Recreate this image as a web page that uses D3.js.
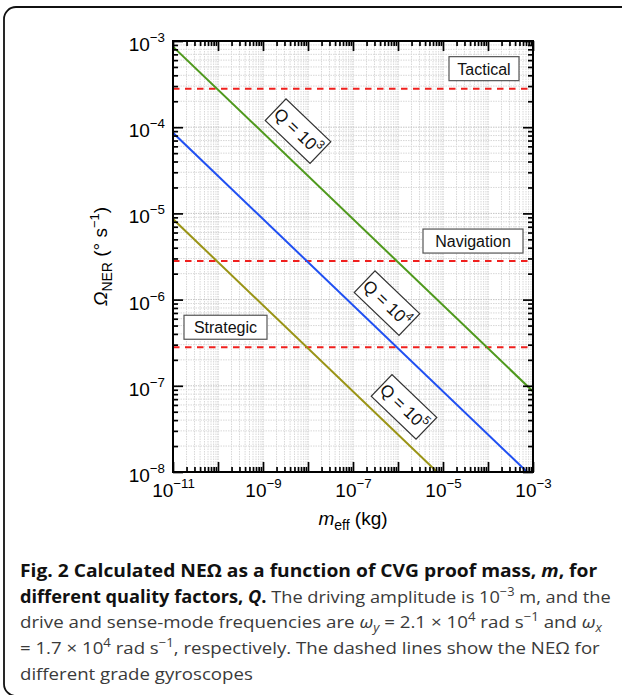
<!DOCTYPE html>
<html>
<head>
<meta charset="utf-8">
<script src="https://cdn.jsdelivr.net/npm/d3@7"></script>
<style>
  body { margin: 0; background: #fff; }
  svg text { font-family: "Liberation Sans", Arial, sans-serif; }
  svg text.caption { font-family: "Open Sans", "Noto Sans", sans-serif; }
</style>
</head>
<body>
<svg id="viz" width="622" height="695"></svg>
<script>
// axis ranges and labelled decades
var massDomain = [1e-11, 1e-3];
var rateDomain = [1e-8, 1e-3];
var massLabelExp = [-11, -9, -7, -5, -3];
var rateLabelExp = [-8, -7, -6, -5, -4, -3];

// NE-Omega curves, one per quality factor (end points)
var qExp = [3, 4, 5];
var qColors = ["#4f991d", "#2050f2", "#9a9416"];
var q3Mass = [1e-11, 1e-3];
var q3Rate = [8.6e-4, 8.6e-8];
var q4Mass = [1e-11, 7.4e-4];
var q4Rate = [8.6e-5, 1e-8];
var q5Mass = [1e-11, 7.4e-6];
var q5Rate = [8.6e-6, 1e-8];
// centre of each "Q = 10^n" tag
var qLabelMass = [6e-9, 5.7e-7, 1.36e-6];
var qLabelRate = [9e-5, 9.1e-7, 5.7e-8];

// gyroscope grades (dashed limits)
var gradeNames = ["Tactical", "Navigation", "Strategic"];
var gradeRates = [2.8e-4, 2.8e-6, 2.8e-7];

var plotL = 173, plotR = 533, plotT = 41, plotB = 472;

var svg = d3.select("#viz");

// outer rounded frame (right/bottom run off the page)
svg.append("rect")
  .attr("x", 4).attr("y", 7).attr("width", 650).attr("height", 689)
  .attr("rx", 12).attr("fill", "none").attr("stroke", "#111").attr("stroke-width", 1.8);

var x = d3.scaleLog().domain(massDomain).range([plotL, plotR]);
var y = d3.scaleLog().domain(rateDomain).range([plotB, plotT]);

function decades(dom) {
  var a = Math.round(Math.log10(dom[0])), b = Math.round(Math.log10(dom[1]));
  var major = [], minor = [];
  for (var e = a; e <= b; e++) {
    major.push(Math.pow(10, e));
    if (e < b) for (var k = 2; k <= 9; k++) minor.push(k * Math.pow(10, e));
  }
  return {major: major, minor: minor};
}
var xt = decades(massDomain), yt = decades(rateDomain);

// grid
var grid = svg.append("g").attr("fill", "none");
grid.selectAll(".gx").data(xt.minor.concat(xt.major)).join("line")
  .attr("x1", d => x(d)).attr("x2", d => x(d)).attr("y1", plotT).attr("y2", plotB)
  .attr("stroke", (d, i) => i >= xt.minor.length ? "#c4c4c4" : "#d8d8d8")
  .attr("stroke-width", 1).attr("stroke-dasharray", "1.5,1");
grid.selectAll(".gy").data(yt.minor.concat(yt.major)).join("line")
  .attr("y1", d => y(d)).attr("y2", d => y(d)).attr("x1", plotL).attr("x2", plotR)
  .attr("stroke", (d, i) => i >= yt.minor.length ? "#c4c4c4" : "#d8d8d8")
  .attr("stroke-width", 1).attr("stroke-dasharray", "1.5,1");

svg.append("clipPath").attr("id", "plotclip").append("rect")
  .attr("x", plotL).attr("y", plotT).attr("width", plotR - plotL).attr("height", plotB - plotT);
var plot = svg.append("g").attr("clip-path", "url(#plotclip)");

// grade limits
plot.selectAll(".grade").data(gradeRates).join("line")
  .attr("x1", plotL).attr("x2", plotR)
  .attr("y1", d => y(d)).attr("y2", d => y(d))
  .attr("stroke", "#f0201e").attr("stroke-width", 2).attr("stroke-dasharray", "6.5,5.5");

// curves
var series = [
  q3Mass.map((m, i) => [m, q3Rate[i]]),
  q4Mass.map((m, i) => [m, q4Rate[i]]),
  q5Mass.map((m, i) => [m, q5Rate[i]])
];
var line = d3.line().x(d => x(d[0])).y(d => y(d[1]));
plot.selectAll(".curve").data(series).join("path")
  .attr("fill", "none")
  .attr("stroke", (d, i) => qColors[i])
  .attr("stroke-width", 2)
  .attr("d", line);

// axes with inward ticks
function sup10(sel, fs) {
  sel.selectAll(".tick text").each(function (d) {
    var t = d3.select(this);
    if (t.text() === "") return;
    var e = Math.round(Math.log10(d));
    t.text(null);
    t.append("tspan").text("10");
    t.append("tspan").attr("dy", -9).attr("font-size", fs * 0.7).text("\u2212" + Math.abs(e));
  });
}
function styleAxis(g) {
  g.select(".domain").remove();
  g.selectAll(".tick line").attr("stroke", "#000").attr("stroke-width", 1.7);
  g.selectAll(".tick text").attr("fill", "#000").attr("font-size", 19);
}
var xFmt = d => massLabelExp.indexOf(Math.round(Math.log10(d))) >= 0 ? "lbl" : "";
var yFmt = d => rateLabelExp.indexOf(Math.round(Math.log10(d))) >= 0 ? "lbl" : "";

svg.append("g").attr("transform", `translate(0,${plotB})`)
  .call(d3.axisBottom(x).tickValues(xt.minor).tickSize(-5).tickFormat(""))
  .call(styleAxis);
svg.append("g").attr("transform", `translate(0,${plotB})`)
  .call(d3.axisBottom(x).tickValues(xt.major).tickSize(-10).tickPadding(12).tickFormat(xFmt))
  .call(styleAxis).call(g => sup10(g, 19));
svg.append("g").attr("transform", `translate(0,${plotT})`)
  .call(d3.axisTop(x).tickValues(xt.minor).tickSize(-5).tickFormat(""))
  .call(styleAxis);
svg.append("g").attr("transform", `translate(0,${plotT})`)
  .call(d3.axisTop(x).tickValues(xt.major).tickSize(-10).tickFormat(""))
  .call(styleAxis);

svg.append("g").attr("transform", `translate(${plotL},0)`)
  .call(d3.axisLeft(y).tickValues(yt.minor).tickSize(-5).tickFormat(""))
  .call(styleAxis);
svg.append("g").attr("transform", `translate(${plotL},0)`)
  .call(d3.axisLeft(y).tickValues(yt.major).tickSize(-10).tickPadding(8).tickFormat(yFmt))
  .call(styleAxis)
  .call(g => g.selectAll(".tick text").attr("dy", "0.5em"))
  .call(g => sup10(g, 19));
svg.append("g").attr("transform", `translate(${plotR},0)`)
  .call(d3.axisRight(y).tickValues(yt.minor).tickSize(-5).tickFormat(""))
  .call(styleAxis);
svg.append("g").attr("transform", `translate(${plotR},0)`)
  .call(d3.axisRight(y).tickValues(yt.major).tickSize(-10).tickFormat(""))
  .call(styleAxis);

// frame
svg.append("rect").attr("x", plotL).attr("y", plotT)
  .attr("width", plotR - plotL).attr("height", plotB - plotT)
  .attr("fill", "none").attr("stroke", "#000").attr("stroke-width", 2);

// grade tags
var gradeBoxes = [
  {w: 70, anchor: "right", off: 14},
  {w: 100, anchor: "right", off: 10},
  {w: 83, anchor: "left", off: 11}
];
gradeNames.forEach(function (name, i) {
  var b = gradeBoxes[i];
  var bx = b.anchor === "right" ? plotR - b.off - b.w : plotL + b.off;
  var by = y(gradeRates[i]) - 8 - 24;
  var g = svg.append("g").attr("transform", `translate(${bx},${by})`);
  g.append("rect").attr("width", b.w).attr("height", 24)
    .attr("fill", "#fff").attr("stroke", "#555").attr("stroke-width", 1.2);
  g.append("text").attr("x", b.w / 2).attr("y", 18).attr("text-anchor", "middle")
    .attr("font-size", 16).attr("fill", "#111").text(name);
});

// Q tags, turned to follow the curves
series.forEach(function (s, i) {
  var ang = Math.atan2(y(s[1][1]) - y(s[0][1]), x(s[1][0]) - x(s[0][0])) * 180 / Math.PI;
  var g = svg.append("g")
    .attr("transform", `translate(${x(qLabelMass[i])},${y(qLabelRate[i])}) rotate(${ang})`);
  g.append("rect").attr("x", -31).attr("y", -15).attr("width", 62).attr("height", 30)
    .attr("fill", "#fff").attr("stroke", "#333").attr("stroke-width", 1.2);
  var t = g.append("text").attr("x", 0).attr("y", 6).attr("text-anchor", "middle")
    .attr("font-size", 17).attr("fill", "#111");
  t.append("tspan").text("Q = 10");
  t.append("tspan").attr("dy", -8).attr("font-size", 12).text(qExp[i]);
});

// axis titles
var xTitle = svg.append("text").attr("x", (plotL + plotR) / 2).attr("y", 525)
  .attr("text-anchor", "middle").attr("font-size", 19).attr("fill", "#000");
xTitle.append("tspan").attr("font-style", "italic").text("m");
xTitle.append("tspan").attr("dy", 5).attr("font-size", 14).text("eff");
xTitle.append("tspan").attr("dy", -5).text(" (kg)");

var yTitle = svg.append("text")
  .attr("transform", `translate(107,${(plotT + plotB) / 2}) rotate(-90)`)
  .attr("text-anchor", "middle").attr("font-size", 19).attr("fill", "#000");
yTitle.append("tspan").attr("font-style", "italic").text("\u03A9");
yTitle.append("tspan").attr("dy", 5).attr("font-size", 14).text("NER");
yTitle.append("tspan").attr("dy", -5).text(" (\u00B0 s");
yTitle.append("tspan").attr("dy", -8).attr("font-size", 13).text("\u22121");
yTitle.append("tspan").attr("dy", 8).text(")");

// caption
var captionLines = [
  [["b", "Fig. 2 Calculated NE\u03A9 as a function of CVG proof mass, "], ["bi", "m"], ["b", ", for"]],
  [["b", "different quality factors, "], ["bi", "Q"], ["b", "."], ["r", " The driving amplitude is 10"], ["sup", "\u22123"], ["r", " m, and the"]],
  [["r", "drive and sense-mode frequencies are "], ["i", "\u03C9"], ["sub", "y"], ["r", " = 2.1 \u00D7 10"], ["sup", "4"],
   ["r", " rad s"], ["sup", "\u22121"], ["r", " and "], ["i", "\u03C9"], ["sub", "x"]],
  [["r", "= 1.7 \u00D7 10"], ["sup", "4"], ["r", " rad s"], ["sup", "\u22121"], ["r", ", respectively. The dashed lines show the NE\u03A9 for"]],
  [["r", "different grade gyroscopes"]]
];
var capRight = [598, 611, 604, 600, null];
var capX = 20, capY0 = 577, capStep = 25.7;
var lastScale = 1;
captionLines.forEach(function (parts, li) {
  var t = svg.append("text").attr("class", "caption")
    .attr("x", capX).attr("y", capY0 + li * capStep).attr("font-size", 17);
  var shift = 0;
  parts.forEach(function (p) {
    var want = p[0] === "sup" ? -7 : (p[0] === "sub" ? 4 : 0);
    var s = t.append("tspan").text(p[1]).attr("dy", want - shift);
    shift = want;
    if (p[0] === "b" || p[0] === "bi") s.attr("font-weight", "bold").attr("fill", "#111");
    else s.attr("fill", "#3a3a3a");
    if (p[0] === "bi" || p[0] === "i" || p[0] === "sub") s.attr("font-style", "italic");
    if (p[0] === "sup" || p[0] === "sub") s.attr("font-size", 12);
  });
  var w = t.node().getBBox().width;
  var sc = capRight[li] ? (capRight[li] - capX) / w : lastScale;
  lastScale = sc;
  t.attr("transform", `translate(${capX},0) scale(${sc},1) translate(${-capX},0)`);
});
</script>
</body>
</html>
